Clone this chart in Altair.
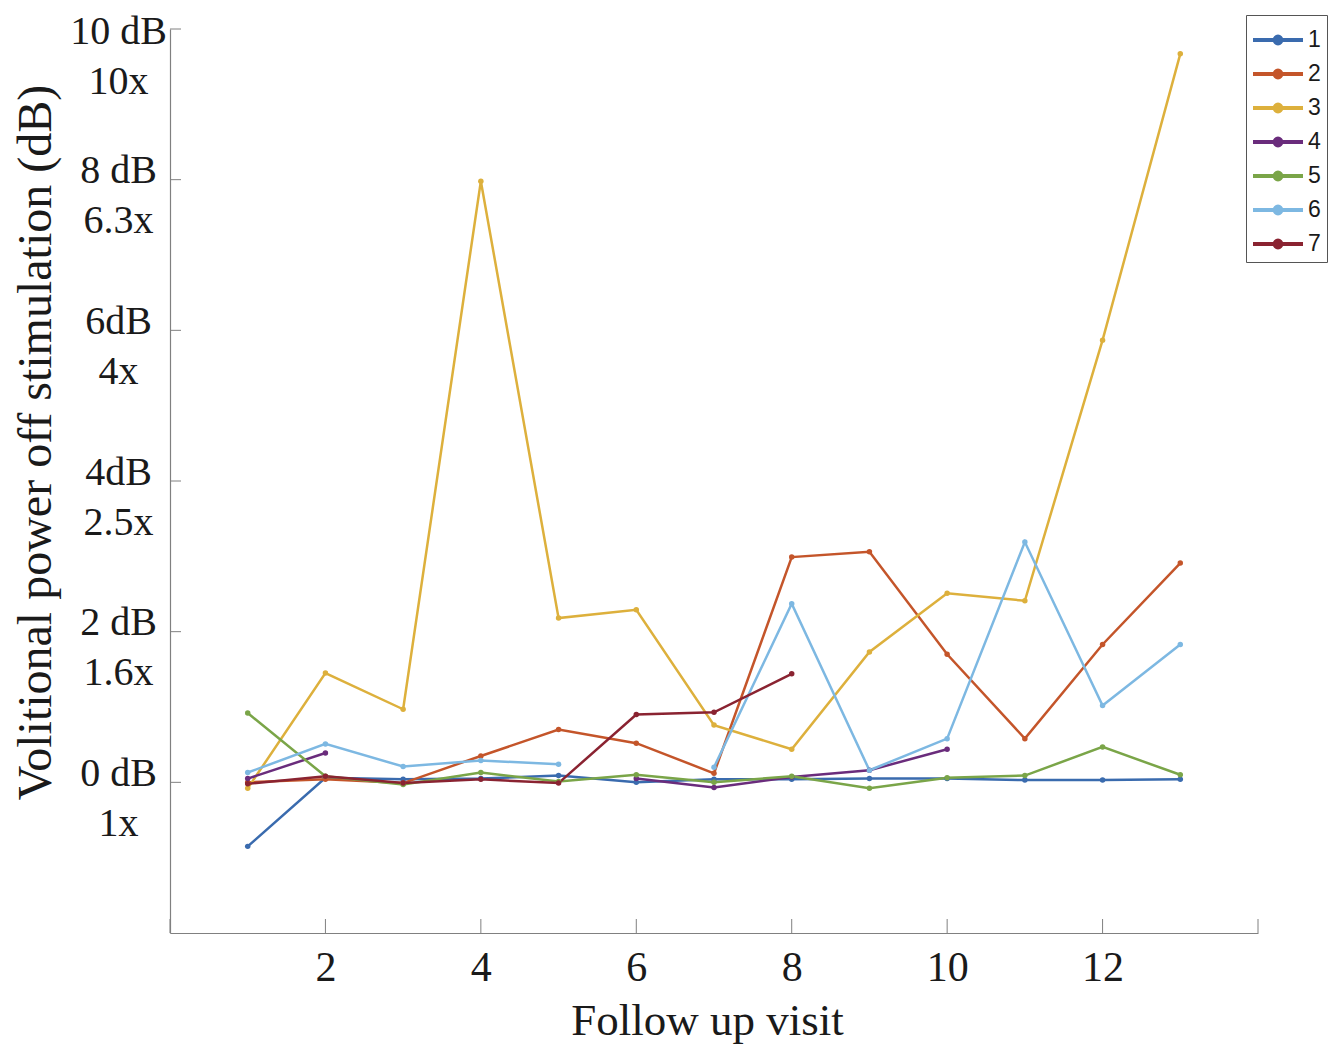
import altair as alt
import pandas as pd

visits = list(range(1, 14))
series_names = ["1", "2", "3", "4", "5", "6", "7"]

s1 = [-0.85, 0.06, 0.04, 0.05, 0.09, 0.00, 0.04, 0.04, 0.05, 0.05, 0.03, 0.03, 0.04]
s2 = [0.00, 0.04, -0.01, 0.35, 0.70, 0.52, 0.12, 2.99, 3.06, 1.70, 0.58, 1.83, 2.91]
s3 = [-0.08, 1.45, 0.97, 7.98, 2.18, 2.29, 0.76, 0.44, 1.73, 2.51, 2.41, 5.87, 9.67]
s4 = [0.05, 0.39, None, None, None, 0.05, -0.07, 0.07, 0.16, 0.44, None, None, None]
s5 = [0.92, 0.08, -0.03, 0.13, 0.01, 0.10, 0.00, 0.08, -0.08, 0.06, 0.09, 0.47, 0.10]
s6 = [0.13, 0.51, 0.21, 0.29, 0.24, None, 0.20, 2.37, 0.16, 0.58, 3.19, 1.02, 1.83]
s7 = [-0.02, 0.08, -0.01, 0.04, -0.01, 0.90, 0.93, 1.44, None, None, None, None, None]
all_series = [s1, s2, s3, s4, s5, s6, s7]

colors = ["#3A6BAE", "#C4552A", "#DDB03C", "#6A2C7C", "#7AA548", "#7DB8E2", "#8A2331"]

y_tick_values = [0, 2, 4, 6, 8, 10]
db_labels = ["0 dB", "2 dB", "4dB", "6dB", "8 dB", "10 dB"]
fold_labels = ["1x", "1.6x", "2.5x", "4x", "6.3x", "10x"]
x_label_values = [2, 4, 6, 8, 10, 12]
x_tick_values = [0, 2, 4, 6, 8, 10, 12, 14]

rows = []
for name, vals in zip(series_names, all_series):
    seg = 0
    gap = True
    for v, val in zip(visits, vals):
        if val is None:
            gap = True
            continue
        if gap:
            seg += 1
            gap = False
        rows.append({"series": name, "seg": f"{name}-{seg}", "visit": v, "db": val})
df = pd.DataFrame(rows)

label_expr = " : ".join(
    f"datum.value == {t} ? ['{a}', '{b}']" for t, a, b in zip(y_tick_values, db_labels, fold_labels)
) + " : ''"

SERIF = "Liberation Serif"
AXIS_GRAY = "#808080"
TEXT = "#1a1a1a"

x_enc = alt.X(
    "visit:Q",
    scale=alt.Scale(domain=[0, 14], nice=False, zero=False),
    axis=alt.Axis(
        values=x_label_values, format="d", ticks=False, grid=False,
        domainColor=AXIS_GRAY, domainWidth=1.2,
        labelFont=SERIF, labelFontSize=42, labelColor=TEXT, labelPadding=14,
        title="Follow up visit", titleFont=SERIF, titleFontSize=45, titleFontWeight="normal",
        titleColor=TEXT, titleX=537, titleY=87, titleAlign="center", titleBaseline="middle",
    ),
)
y_enc = alt.Y(
    "db:Q",
    scale=alt.Scale(domain=[-2, 10], nice=False, zero=False),
    axis=alt.Axis(
        values=y_tick_values, ticks=False, grid=False, domainColor=AXIS_GRAY, domainWidth=1.2,
        labelFont=SERIF, labelFontSize=40, labelColor=TEXT, labelPadding=52,
        labelAlign="center", labelBaseline="middle", labelLineHeight=50,
        labelOffset={"condition": {"test": "datum.value == 10", "value": 2}, "value": -9},
        labelExpr=label_expr, labelOverlap=False,
        title="Volitional power off stimulation (dB)", titleFont=SERIF, titleFontSize=48,
        titleFontWeight="normal", titleColor=TEXT, titleAngle=270,
        titleX=-134, titleY=413, titleAlign="center", titleBaseline="middle",
    ),
)

color_enc = alt.Color(
    "series:N",
    scale=alt.Scale(domain=series_names, range=colors),
    legend=alt.Legend(
        title=None, orient="none", legendX=1076, legendY=-14,
        symbolType="M-1.47,0H1.47M-0.2,0A0.2,0.2,0,1,1,0.2,0A0.2,0.2,0,1,1,-0.2,0",
        symbolSize=1156, symbolStrokeWidth=4, symbolOffset=7,
        labelFont="Liberation Sans", labelFontSize=23, labelColor=TEXT, labelOffset=11,
        padding=6, rowPadding=3, strokeColor="#555555", fillColor="white",
    ),
)

lines = alt.Chart(df).mark_line(strokeWidth=2.5).encode(
    x=x_enc, y=y_enc, color=color_enc, detail="seg:N"
)
points = alt.Chart(df).mark_circle(size=30, opacity=1).encode(
    x="visit:Q", y="db:Q", color=alt.Color("series:N")
)

ytick_df = pd.DataFrame({"db": y_tick_values})
xtick_df = pd.DataFrame({"visit": x_tick_values})
yticks = alt.Chart(ytick_df).mark_rule(color=AXIS_GRAY, strokeWidth=1).encode(
    y="db:Q", x=alt.value(0), x2=alt.value(11)
)
xticks = alt.Chart(xtick_df).mark_rule(color=AXIS_GRAY, strokeWidth=1).encode(
    x="visit:Q", y=alt.value(904), y2=alt.value(890)
)

chart = (
    alt.layer(lines, points, yticks, xticks)
    .properties(
        width=1088, height=904,
        autosize=alt.AutoSizeParams(type="none"),
        padding={"left": 162, "top": 21, "right": 70, "bottom": 111},
    )
    .configure_view(stroke=None)
)

chart.save("out.html", embed_options={"renderer": "svg", "actions": False})
